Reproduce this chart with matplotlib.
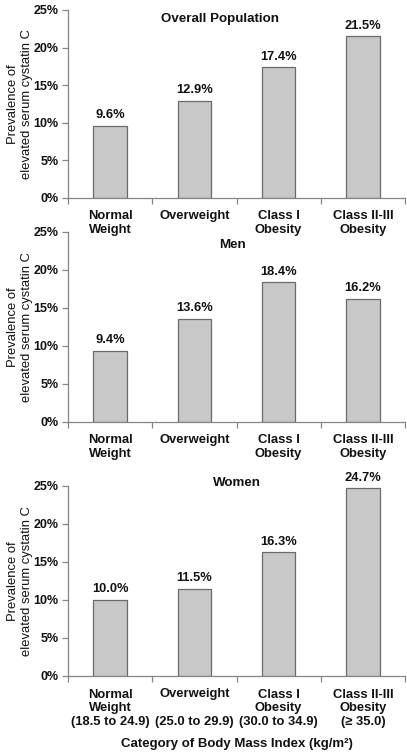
import matplotlib
matplotlib.use("Agg")
import matplotlib.pyplot as plt
from matplotlib.ticker import PercentFormatter, FixedLocator

plt.rcParams['font.family'] = ['Liberation Sans', 'DejaVu Sans']

categories = ["Normal\nWeight", "Overweight", "Class I\nObesity", "Class II-III\nObesity"]
categories_bmi = ["Normal\nWeight\n(18.5 to 24.9)", "Overweight\n\n(25.0 to 29.9)",
                  "Class I\nObesity\n(30.0 to 34.9)", "Class II-III\nObesity\n(\u2265 35.0)"]
overall = [9.6, 12.9, 17.4, 21.5]
men = [9.4, 13.6, 18.4, 16.2]
women = [10.0, 11.5, 16.3, 24.7]
titles = ["Overall Population", "Men", "Women"]
title_y = [23.8, 23.3, 25.4]
title_x = [1.3, 1.45, 1.5]
yticks = [0, 5, 10, 15, 20, 25]

W, H = 407, 755
fig = plt.figure(figsize=(W / 100, H / 100), dpi=100)

panels = [(10, 198), (232, 422), (486, 676)]
series = [overall, men, women]
left, right = 68, 405
axis_col = "#858585"
txt_col = "#111111"

for i, ((top, bot), vals) in enumerate(zip(panels, series)):
    ax = fig.add_axes([left / W, 1 - bot / H, (right - left) / W, (bot - top) / H])
    ax.patch.set_visible(False)
    x = range(len(vals))
    ax.bar(x, vals, width=0.4, color="#c8c8c8", edgecolor="#6a6a6a", linewidth=0.9, zorder=2)
    for xi, v in zip(x, vals):
        ax.text(xi, v + 0.6, f"{v:.1f}%", ha="center", va="bottom", fontsize=9.3,
                fontweight="bold", color=txt_col)
    ax.set_xlim(-0.5, len(vals) - 0.5)
    ax.set_ylim(0, 25)
    ax.set_yticks(yticks)
    ax.yaxis.set_major_formatter(PercentFormatter(decimals=0))
    for s in ["top", "right"]:
        ax.spines[s].set_visible(False)
    for s in ["left", "bottom"]:
        ax.spines[s].set_color(axis_col)
        ax.spines[s].set_linewidth(0.9)
    ax.tick_params(axis="y", direction="out", length=4, color=axis_col, width=0.9,
                   labelsize=9, pad=3, labelcolor=txt_col)
    for lab in ax.get_yticklabels():
        lab.set_fontweight("bold")
    ax.xaxis.set_major_locator(FixedLocator([-0.5, 0.5, 1.5, 2.5, 3.5]))
    ax.xaxis.set_major_formatter(plt.NullFormatter())
    ax.xaxis.set_minor_locator(FixedLocator(list(x)))
    labs = categories_bmi if i == 2 else categories
    ax.set_xticks(list(x), labels=labs, minor=True)
    ax.tick_params(axis="x", which="major", direction="out", length=4, color=axis_col, width=0.9)
    ax.tick_params(axis="x", which="minor", length=0, pad=9, labelsize=9.4, labelcolor=txt_col)
    for lab in ax.get_xticklabels(minor=True):
        lab.set_fontweight("bold")
        lab.set_linespacing(1.2)
    ax.text(title_x[i], title_y[i], titles[i], ha="center", va="center", fontsize=9.6,
            fontweight="bold", color=txt_col)
    ax.set_ylabel("Prevalence of\nelevated serum cystatin C", fontsize=9.4, color=txt_col,
                  linespacing=1.15)
    ax.yaxis.set_label_coords(-0.105, 0.5)
    if i == 2:
        ax.set_xlabel("Category of Body Mass Index (kg/m\u00b2)", fontsize=9.5,
                      fontweight="bold", color=txt_col, labelpad=7)

fig.savefig("out.png", dpi=100)
